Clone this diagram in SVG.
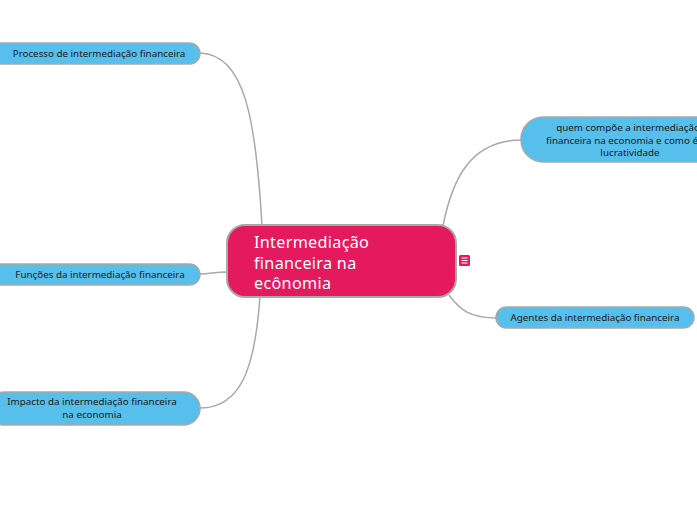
<svg xmlns="http://www.w3.org/2000/svg" width="697" height="520" viewBox="0 0 697 520">
<style>
.sub{fill:#56BFEC;stroke:#A9A9A9;stroke-width:1.5}
.st{font-family:"Noto Sans","Liberation Sans",sans-serif;font-size:9.8px;fill:#1a1a1a;text-anchor:middle}
.con{fill:none;stroke:#A8A8A8;stroke-width:1.5}
.ct{font-family:"Noto Sans","Liberation Sans",sans-serif;font-size:16.2px;fill:#ffffff;letter-spacing:0.3px}
</style>
<rect width="697" height="520" fill="#ffffff"/>
<g id="connectors">
<path class="con" d="M262,226 C256,120 245,54 200,53"/>
<path class="con" d="M228,272 C215,272 210,274 200,274"/>
<path class="con" d="M260,296 C255,370 240,408 200,408"/>
<path class="con" d="M443,226 C452,180 470,140 522,140"/>
<path class="con" d="M449,295 C460,310 470,318 497,318"/>
</g>
<g id="central">
<rect x="227" y="225" width="229" height="72" rx="18" fill="#E5195E" stroke="#A9A9A9" stroke-width="2"/>
<text class="ct" x="254" y="248">Intermediação</text>
<text class="ct" x="254" y="268.5">financeira na</text>
<text class="ct" x="254" y="289">ecônomia</text>
<rect x="459" y="255" width="11" height="11" rx="1.5" fill="#E5195E"/>
<g stroke="#ffffff" stroke-width="1"><line x1="461.5" y1="258" x2="467.5" y2="258"/><line x1="461.5" y1="260.5" x2="467.5" y2="260.5"/><line x1="461.5" y1="263" x2="467.5" y2="263"/></g>
</g>
<g id="n1">
<rect class="sub" x="-12" y="43" width="212" height="21" rx="10.5"/>
<text class="st" x="99" y="56.5">Processo de intermediação financeira</text>
</g>
<g id="n2">
<rect class="sub" x="-12" y="264" width="212" height="21" rx="10.5"/>
<text class="st" x="100" y="278">Funções da intermediação financeira</text>
</g>
<g id="n3">
<rect class="sub" x="-12" y="392" width="212" height="33" rx="16.5"/>
<text class="st" x="92" y="405">Impacto da intermediação financeira</text>
<text class="st" x="92" y="418">na economia</text>
</g>
<g id="n4">
<rect class="sub" x="521" y="117" width="200" height="45" rx="22"/>
<text class="st" x="628" y="131">quem compõe a intermediação</text>
<text class="st" x="622" y="143.5">financeira na economia e como é</text>
<text class="st" x="630" y="156">lucratividade</text>
</g>
<g id="n5">
<rect class="sub" x="496" y="307" width="198" height="21" rx="10.5"/>
<text class="st" x="595" y="321">Agentes da intermediação financeira</text>
</g>
</svg>
